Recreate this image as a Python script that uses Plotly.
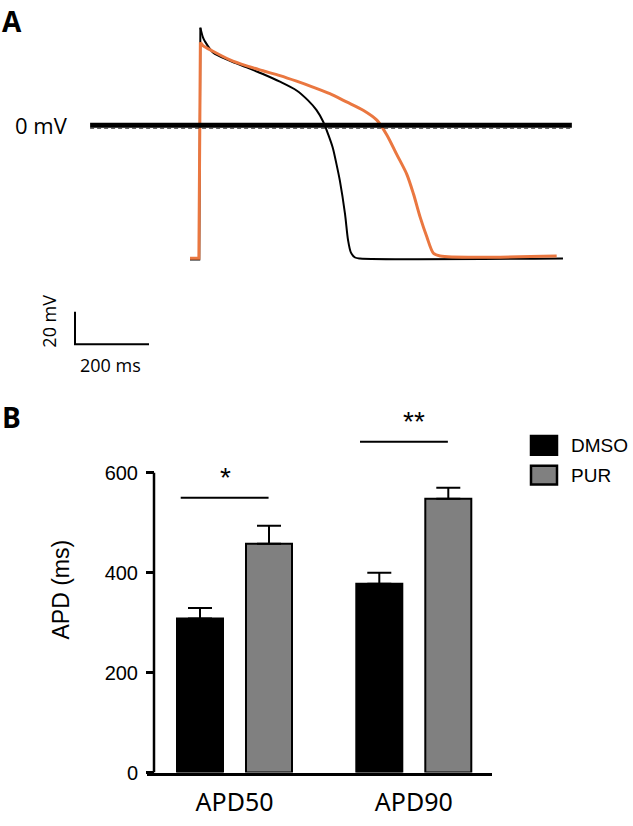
import plotly.graph_objects as go

W, H = 633, 826

# ---------------- panel A data: action potentials (time ms, Vm mV) ----------------
DMSO_T = [-27, -2, 1, 8, 13.5, 35, 81, 126, 170, 216, 261, 292, 315, 333, 347,
          359, 369, 378, 392, 400, 408, 419, 432, 981]
DMSO_V = [-82.4, -82.4, 60, 54, 51.5, 44.8, 39.6, 35.6, 31.5, 26.8, 21.4, 15.3,
          9.3, 2.2, -5.9, -13.9, -24, -34, -54.5, -70.3, -78.2, -81.2, -81.8, -81.8]
PUR_T = [-27, -3, 1, 8, 35, 81, 126, 170, 216, 261, 305, 351, 396, 441, 478,
         505, 532, 559, 577, 595, 613, 631, 649, 964]
PUR_V = [-81.6, -81.6, 51, 49, 45.5, 40.2, 36.5, 33.5, 30.5, 27.1, 23.5, 19.4,
         14.4, 9.3, 3.2, -5.9, -18, -30.1, -42.2, -56.4, -68.5, -78.6, -80.3, -80.3]
ZERO_T = [-297, 1005]
ZERO_V = [0, 0]
SCALE_MS = 200
SCALE_MV = 20

# ---------------- panel B data: APD bars ----------------
GROUPS = ["APD50", "APD90"]
DMSO_MEAN = [308, 378]
DMSO_SEM = [21, 22]
PUR_MEAN = [458, 548]
PUR_SEM = [36, 22]
SIG_TEXT = ["*", "**"]
SIG_Y = [550, 662]
Y_TICKS = [0, 200, 400, 600]

# panel A pixel mapping
A_X0, A_Y0 = 200, 127          # pixel of t=0, V=0
PX_MS, PX_MV = 0.37, 1.65
A_BOTTOM = 380

# panel B pixel mapping
B_ZERO = 783
PX_APD = 0.5066
B_TOP_VAL = 720
GX0, GPX = 234.5, 179.3        # pixel of group 0, pixels per group
B_LEFT, B_RIGHT = 147, 492
YAX_PX = 154

BAR_W = 46 / GPX
HALF = 34.5 / GPX

ORANGE = "#EA7740"


def px(x):
    return x / W


def py(y):
    return 1 - y / H


fig = go.Figure()

# ══════ A: traces ══════
for t, v, col, lw in [(DMSO_T, DMSO_V, "black", 2), (PUR_T, PUR_V, ORANGE, 3)]:
    # upstroke straight, the rest smooth
    fig.add_trace(go.Scatter(x=t[:3], y=v[:3], mode="lines",
                             line=dict(color=col, width=lw), xaxis="x", yaxis="y"))
    fig.add_trace(go.Scatter(x=t[2:], y=v[2:], mode="lines",
                             line=dict(color=col, width=lw, shape="spline", smoothing=0.8),
                             xaxis="x", yaxis="y"))

fig.add_trace(go.Scatter(x=ZERO_T, y=[v - 1.9 for v in ZERO_V], mode="lines",
                         line=dict(color="#555", width=1, dash="4px,3px"),
                         xaxis="x", yaxis="y"))
fig.add_trace(go.Scatter(x=ZERO_T, y=ZERO_V, mode="lines",
                         line=dict(color="black", width=5), xaxis="x", yaxis="y"))

# scale bar
sb_t = (75 - A_X0) / PX_MS
sb_v = (A_Y0 - 349) / PX_MV
fig.add_trace(go.Scatter(x=[sb_t, sb_t, sb_t + SCALE_MS],
                         y=[sb_v + SCALE_MV, sb_v, sb_v], mode="lines",
                         line=dict(color="black", width=2), xaxis="x", yaxis="y"))

# ══════ B: bars ══════
xs = list(range(len(GROUPS)))
fig.add_trace(go.Bar(x=xs, y=DMSO_MEAN, width=BAR_W, offset=-HALF - BAR_W / 2,
                     marker=dict(color="black", line=dict(color="black", width=2)),
                     error_y=dict(type="data", array=DMSO_SEM, symmetric=False,
                                  arrayminus=[0] * len(xs), color="black",
                                  thickness=2, width=12),
                     xaxis="x2", yaxis="y2"))
fig.add_trace(go.Bar(x=xs, y=PUR_MEAN, width=BAR_W, offset=HALF - BAR_W / 2,
                     marker=dict(color="#808080", line=dict(color="black", width=2)),
                     error_y=dict(type="data", array=PUR_SEM, symmetric=False,
                                  arrayminus=[0] * len(xs), color="black",
                                  thickness=2, width=12),
                     xaxis="x2", yaxis="y2"))

# significance lines
for i, h in enumerate(SIG_Y):
    fig.add_trace(go.Scatter(x=[i - 0.30, i + 0.19], y=[h, h], mode="lines",
                             line=dict(color="black", width=2),
                             xaxis="x2", yaxis="y2"))
    fig.add_annotation(x=i - 0.05 + 0.05 * i, y=h + 40, xref="x2", yref="y2",
                       text=SIG_TEXT[i], showarrow=False,
                       xanchor="center", yanchor="middle",
                       font=dict(family="Liberation Sans", size=28, color="black"))

# y axis line for panel B (stops at 600)
fig.add_shape(type="line", xref="paper", yref="y2", x0=px(YAX_PX), x1=px(YAX_PX),
              y0=0, y1=Y_TICKS[-1], line=dict(color="black", width=2.5))

# legend keys
for (y0, y1), col, lab, ty in [((442, 461), "black", "DMSO", 452),
                               ((472, 491), "#808080", "PUR", 482)]:
    fig.add_shape(type="rect", xref="paper", yref="paper",
                  x0=px(531), x1=px(557), y0=py(y1), y1=py(y0),
                  fillcolor=col, line=dict(color="black", width=2.5))
    fig.add_annotation(x=px(569), y=py(ty), xref="paper", yref="paper",
                       xanchor="left", yanchor="middle", text=lab, showarrow=False,
                       font=dict(family="Liberation Sans", size=19, color="black"))

# ══════ text ══════
font_a = dict(family="Open Sans", size=18, color="black")
fig.add_annotation(x=(41 - A_X0) / PX_MS, y=0, xref="x", yref="y", text="0 mV",
                   xanchor="center", yanchor="middle", showarrow=False,
                   font=dict(family="Open Sans", size=22, color="black"))
fig.add_annotation(x=(49 - A_X0) / PX_MS, y=(A_Y0 - 326) / PX_MV, xref="x", yref="y",
                   text="20 mV", textangle=-90, showarrow=False,
                   xanchor="center", yanchor="middle", font=font_a)
fig.add_annotation(x=(110 - A_X0) / PX_MS, y=(A_Y0 - 370) / PX_MV, xref="x", yref="y",
                   text="200 ms", showarrow=False,
                   xanchor="center", yanchor="middle", font=font_a)
fig.add_annotation(x=0, y=1, xref="paper", yref="paper",
                   xanchor="left", yanchor="top",
                   text="<b>A</b>", showarrow=False,
                   font=dict(family="Open Sans", size=28, color="black"))
fig.add_annotation(x=0, y=py(423), xref="paper", yref="paper",
                   xanchor="left", yanchor="middle",
                   text="<b>B</b>", showarrow=False,
                   font=dict(family="Open Sans", size=28, color="black"))
fig.add_annotation(x=px(61.5), y=py(598), xref="paper", yref="paper",
                   xanchor="center", yanchor="middle",
                   text="APD (ms)", textangle=-90, showarrow=False,
                   font=dict(family="Liberation Sans", size=23, color="black"))

# ══════ layout ══════
fig.update_layout(
    width=W, height=H,
    margin=dict(l=0, r=0, t=0, b=0),
    paper_bgcolor="white", plot_bgcolor="white",
    showlegend=False,
    barmode="overlay",
    xaxis=dict(domain=[0, 1], range=[-A_X0 / PX_MS, (W - A_X0) / PX_MS],
               visible=False, anchor="y"),
    yaxis=dict(domain=[py(A_BOTTOM), 1],
               range=[(A_Y0 - A_BOTTOM) / PX_MV, A_Y0 / PX_MV],
               visible=False, anchor="x"),
    xaxis2=dict(domain=[px(B_LEFT), px(B_RIGHT)],
                range=[(B_LEFT - GX0) / GPX, (B_RIGHT - GX0) / GPX],
                anchor="y2", showline=True, linecolor="black", linewidth=2.5,
                showgrid=False, zeroline=False, ticks="",
                tickvals=xs, ticktext=GROUPS, ticklabelstandoff=6,
                tickfont=dict(family="Noto Sans", size=25, color="black")),
    yaxis2=dict(domain=[py(B_ZERO), py(B_ZERO - B_TOP_VAL * PX_APD)],
                range=[0, B_TOP_VAL], anchor="free", position=px(YAX_PX),
                showline=False, showgrid=False, zeroline=False,
                tickvals=Y_TICKS, ticks="outside", ticklen=8, tickwidth=2.5,
                tickcolor="black", ticklabelstandoff=4,
                tickfont=dict(family="Liberation Sans", size=20, color="black")),
)

fig.write_html("out.html", config={"displayModeBar": False},
               post_script="document.body.style.margin='0';")
